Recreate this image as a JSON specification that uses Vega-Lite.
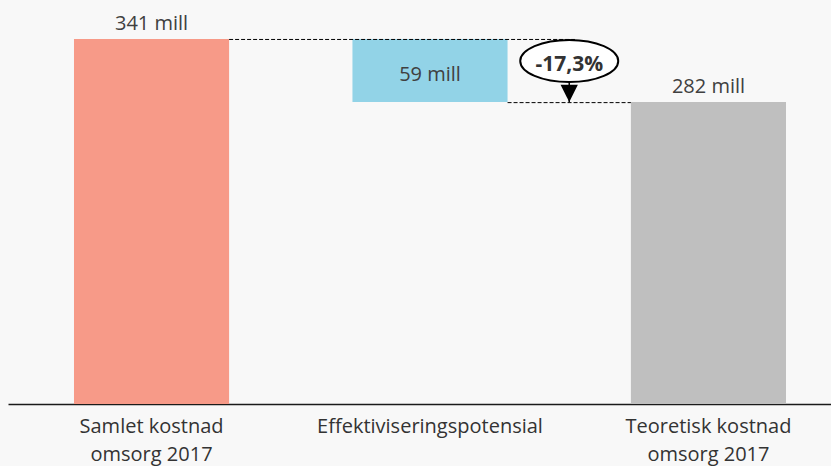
{
  "$schema": "https://vega.github.io/schema/vega-lite/v6.json",
  "width": 823,
  "height": 404,
  "autosize": {"type": "none"},
  "padding": {"left": 8, "top": 0, "right": 0, "bottom": 62},
  "background": "#F8F8F8",
  "config": {
    "view": {"stroke": null},
    "font": "Open Sans",
    "text": {"font": "Open Sans"}
  },
  "datasets": {
    "bars": [
      {"kategori": "Samlet kostnad omsorg 2017", "fra": 0, "til": 341, "tekst": "341 mill"},
      {"kategori": "Effektiviseringspotensial", "fra": 282, "til": 341, "tekst": "59 mill"},
      {"kategori": "Teoretisk kostnad omsorg 2017", "fra": 0, "til": 282, "tekst": "282 mill"}
    ],
    "endring": [
      {"kategori": "Effektiviseringspotensial", "fra": 341, "til": 282, "neste": "Teoretisk kostnad omsorg 2017", "forrige": "Samlet kostnad omsorg 2017", "prosent": "-17,3%"}
    ]
  },
  "encoding": {
    "x": {
      "field": "kategori",
      "type": "nominal",
      "sort": null,
      "scale": {
        "domain": ["Samlet kostnad omsorg 2017", "Effektiviseringspotensial", "Teoretisk kostnad omsorg 2017"],
        "range": [0, 844],
        "paddingInner": 0.443,
        "paddingOuter": 0.237
      },
      "axis": {
        "title": null,
        "labelAngle": 0,
        "ticks": false,
        "domainColor": "#1a1a1a",
        "domainWidth": 1.5,
        "labelFont": "Open Sans",
        "labelFontSize": 20,
        "labelColor": "#333333",
        "labelPadding": 12,
        "labelLineHeight": 28,
        "labelLimit": 0,
        "labelExpr": "split(replace(datum.label, ' omsorg', '|omsorg'), '|')"
      }
    }
  },
  "layer": [
    {
      "data": {"name": "bars"},
      "mark": {"type": "bar"},
      "encoding": {
        "y": {"field": "fra", "type": "quantitative", "scale": {"domain": [0, 377.4], "nice": false, "zero": true}, "axis": null},
        "y2": {"field": "til"},
        "color": {
          "field": "kategori",
          "type": "nominal",
          "scale": {
            "domain": ["Samlet kostnad omsorg 2017", "Effektiviseringspotensial", "Teoretisk kostnad omsorg 2017"],
            "range": ["#F79A88", "#92D3E7", "#BFBFBF"]
          },
          "legend": null
        }
      }
    },
    {
      "data": {"name": "bars"},
      "transform": [{"filter": "datum.fra == 0"}],
      "mark": {"type": "text", "baseline": "alphabetic", "dy": -9, "fontSize": 20, "color": "#404040"},
      "encoding": {
        "y": {"field": "til", "type": "quantitative"},
        "text": {"field": "tekst"}
      }
    },
    {
      "data": {"name": "bars"},
      "transform": [{"filter": "datum.fra != 0"}],
      "mark": {"type": "text", "baseline": "alphabetic", "dy": -21, "fontSize": 20, "color": "#404040"},
      "encoding": {
        "y": {"field": "fra", "type": "quantitative"},
        "text": {"field": "tekst"}
      }
    },
    {
      "data": {"name": "endring"},
      "mark": {"type": "rule", "color": "#000000", "strokeWidth": 1, "strokeDash": [4, 2], "yOffset": 0.5},
      "encoding": {
        "x": {"field": "forrige", "type": "nominal", "bandPosition": 1},
        "x2": {"field": "kategori", "bandPosition": 1.4345},
        "y": {"field": "fra", "type": "quantitative"}
      }
    },
    {
      "data": {"name": "endring"},
      "mark": {"type": "rule", "color": "#000000", "strokeWidth": 1, "strokeDash": [4, 2], "yOffset": 0.5},
      "encoding": {
        "x": {"field": "kategori", "type": "nominal", "bandPosition": 1},
        "x2": {"field": "neste", "bandPosition": 0},
        "y": {"field": "til", "type": "quantitative"}
      }
    },
    {
      "data": {"name": "endring"},
      "mark": {"type": "rule", "color": "#000000", "strokeWidth": 1.5},
      "encoding": {
        "x": {"field": "kategori", "type": "nominal", "bandPosition": 1.3977},
        "y": {"field": "fra", "type": "quantitative"},
        "y2": {"field": "til"}
      }
    },
    {
      "data": {"name": "endring"},
      "mark": {"type": "point", "shape": "M -1 -2 L 1 -2 L 0 0 Z", "size": 300, "filled": true, "color": "#000000", "opacity": 1, "strokeWidth": 0},
      "encoding": {
        "x": {"field": "kategori", "type": "nominal", "bandPosition": 1.3977},
        "y": {"field": "til", "type": "quantitative"}
      }
    },
    {
      "data": {"name": "endring"},
      "mark": {"type": "point", "shape": "M -1 0 A 1 0.43 0 1 1 1 0 A 1 0.43 0 1 1 -1 0 Z", "size": 9604, "filled": false, "fill": "#FFFFFF", "fillOpacity": 1, "stroke": "#000000", "strokeWidth": 2, "opacity": 1, "yOffset": 22},
      "encoding": {
        "x": {"field": "kategori", "type": "nominal", "bandPosition": 1.3977},
        "y": {"field": "fra", "type": "quantitative"}
      }
    },
    {
      "data": {"name": "endring"},
      "mark": {"type": "text", "baseline": "alphabetic", "dy": 32.5, "fontSize": 21, "fontWeight": "bold", "color": "#333333"},
      "encoding": {
        "x": {"field": "kategori", "type": "nominal", "bandPosition": 1.3977},
        "y": {"field": "fra", "type": "quantitative"},
        "text": {"field": "prosent"}
      }
    }
  ]
}
